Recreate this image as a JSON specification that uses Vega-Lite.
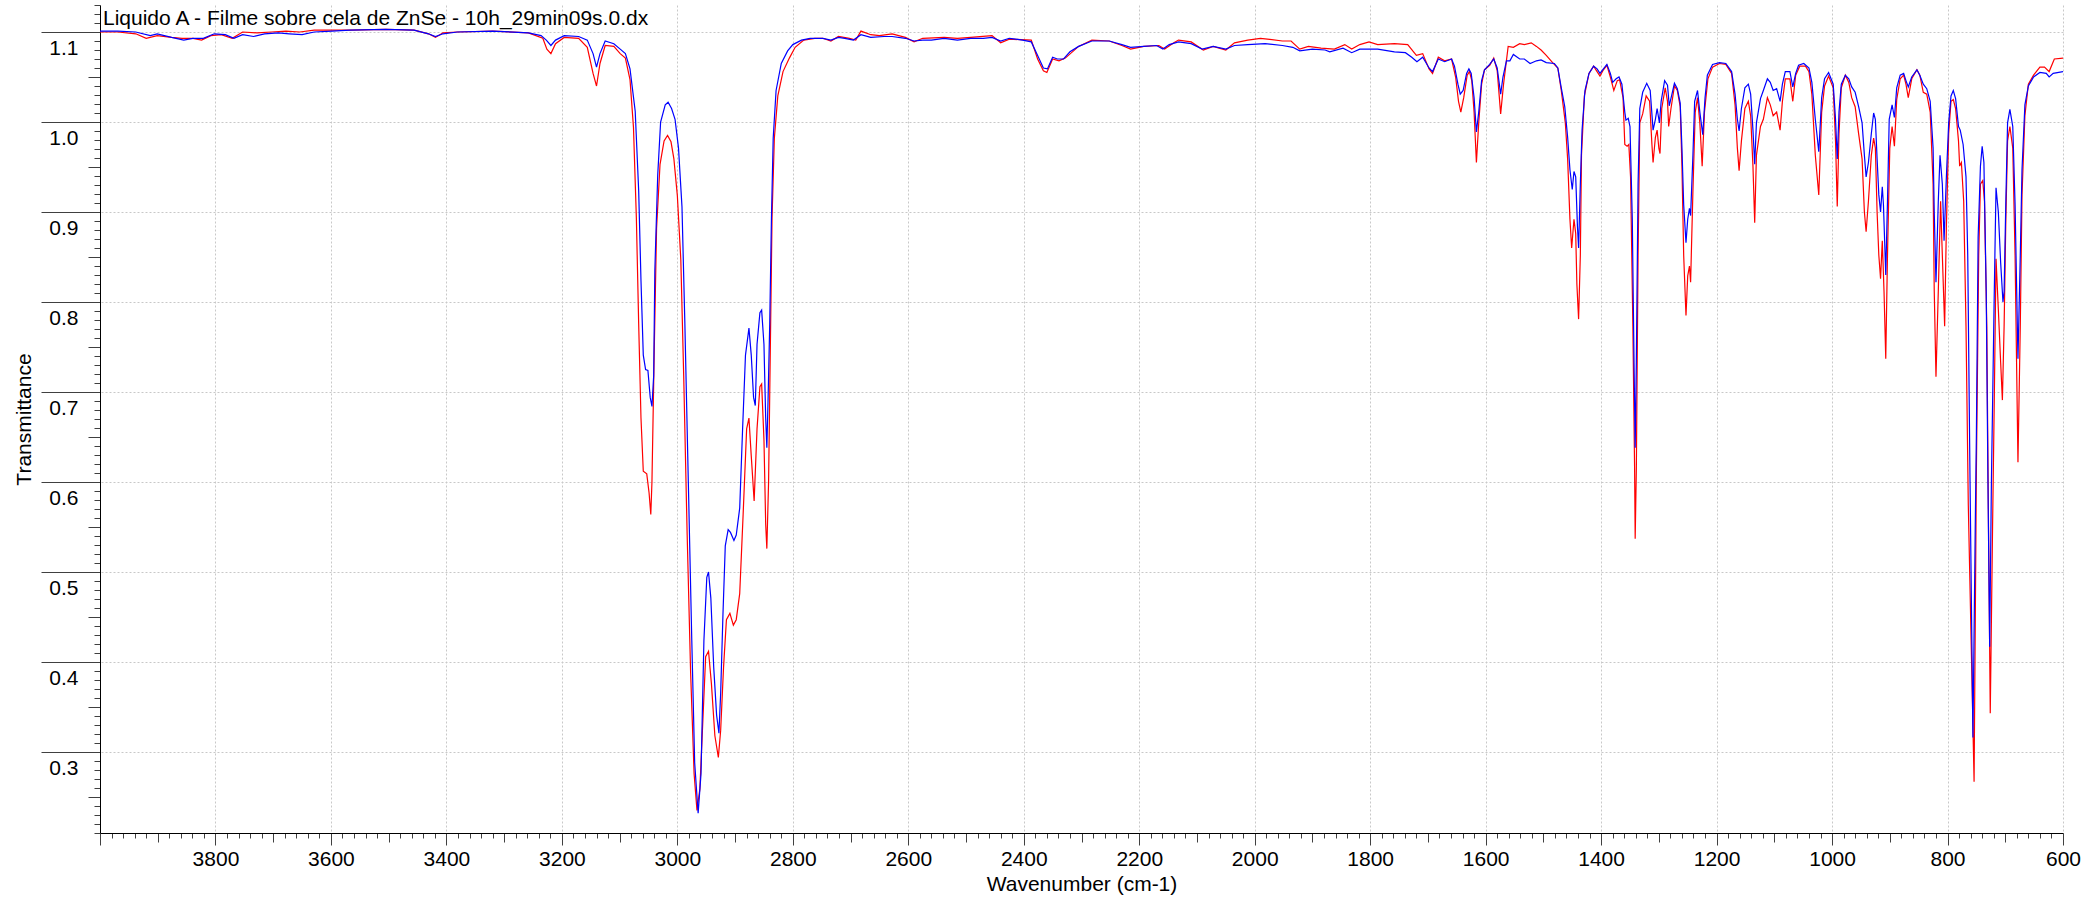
{
  "$schema": "https://vega.github.io/schema/vega-lite/v6.json",
  "width": 1963,
  "height": 828,
  "autosize": {"type": "none"},
  "padding": {"left": 100, "top": 5, "right": 28, "bottom": 66},
  "background": "white",
  "title": {"text": "Liquido A - Filme sobre cela de ZnSe - 10h_29min09s.0.dx", "anchor": "start", "frame": "group", "offset": -20, "baseline": "alphabetic", "dx": 3, "dy": 21, "font": "Liberation Sans", "fontSize": 21, "fontWeight": "normal", "color": "#000000"},
  "config": {
    "view": {"stroke": null},
    "font": "Liberation Sans",
    "axis": {"labelFont": "Liberation Sans", "labelFontSize": 21, "labelColor": "#000000", "titleFont": "Liberation Sans", "titleFontSize": 21, "titleFontWeight": "normal", "titleColor": "#000000", "domainColor": "#000000", "domainWidth": 1, "tickColor": "#404040", "tickWidth": 1, "gridColor": "#c8c8c8", "gridDash": [2, 2], "gridWidth": 1}
  },
  "datasets": {
    "blue": [
      {"w":4000,"t":1.101},{"w":3969,"t":1.101},{"w":3938,"t":1.100},{"w":3913,"t":1.096},{"w":3901,"t":1.098},{"w":3876,"t":1.094},{"w":3855,"t":1.091},{"w":3839,"t":1.093},{"w":3821,"t":1.093},{"w":3802,"t":1.098},{"w":3783,"t":1.097},{"w":3768,"t":1.093},{"w":3753,"t":1.097},{"w":3734,"t":1.095},{"w":3715,"t":1.098},{"w":3691,"t":1.099},{"w":3672,"t":1.098},{"w":3650,"t":1.097},{"w":3629,"t":1.100},{"w":3598,"t":1.101},{"w":3567,"t":1.102},{"w":3505,"t":1.103},{"w":3456,"t":1.102},{"w":3431,"t":1.098},{"w":3419,"t":1.095},{"w":3406,"t":1.098},{"w":3381,"t":1.100},{"w":3320,"t":1.101},{"w":3258,"t":1.099},{"w":3236,"t":1.096},{"w":3227,"t":1.091},{"w":3219,"t":1.085},{"w":3211,"t":1.091},{"w":3196,"t":1.096},{"w":3171,"t":1.095},{"w":3156,"t":1.091},{"w":3146,"t":1.076},{"w":3140,"t":1.061},{"w":3134,"t":1.076},{"w":3125,"t":1.090},{"w":3110,"t":1.087},{"w":3099,"t":1.081},{"w":3090,"t":1.076},{"w":3082,"t":1.059},{"w":3073,"t":1.012},{"w":3067,"t":0.924},{"w":3063,"t":0.824},{"w":3059,"t":0.741},{"w":3055,"t":0.725},{"w":3051,"t":0.724},{"w":3047,"t":0.694},{"w":3044,"t":0.684},{"w":3041,"t":0.718},{"w":3039,"t":0.835},{"w":3034,"t":0.941},{"w":3029,"t":1.000},{"w":3021,"t":1.019},{"w":3016,"t":1.022},{"w":3010,"t":1.015},{"w":3004,"t":1.003},{"w":2998,"t":0.971},{"w":2992,"t":0.906},{"w":2987,"t":0.776},{"w":2981,"t":0.600},{"w":2975,"t":0.424},{"w":2970,"t":0.288},{"w":2964,"t":0.232},{"w":2959,"t":0.276},{"w":2954,"t":0.424},{"w":2949,"t":0.494},{"w":2946,"t":0.500},{"w":2942,"t":0.471},{"w":2937,"t":0.394},{"w":2932,"t":0.341},{"w":2928,"t":0.321},{"w":2925,"t":0.365},{"w":2921,"t":0.453},{"w":2917,"t":0.529},{"w":2912,"t":0.547},{"w":2908,"t":0.544},{"w":2902,"t":0.535},{"w":2898,"t":0.541},{"w":2892,"t":0.571},{"w":2887,"t":0.659},{"w":2882,"t":0.741},{"w":2876,"t":0.771},{"w":2872,"t":0.741},{"w":2868,"t":0.694},{"w":2865,"t":0.685},{"w":2862,"t":0.753},{"w":2857,"t":0.788},{"w":2854,"t":0.791},{"w":2850,"t":0.753},{"w":2847,"t":0.671},{"w":2845,"t":0.638},{"w":2843,"t":0.688},{"w":2840,"t":0.776},{"w":2837,"t":0.894},{"w":2834,"t":0.982},{"w":2829,"t":1.035},{"w":2820,"t":1.065},{"w":2809,"t":1.079},{"w":2800,"t":1.086},{"w":2785,"t":1.091},{"w":2770,"t":1.093},{"w":2748,"t":1.093},{"w":2734,"t":1.091},{"w":2721,"t":1.094},{"w":2710,"t":1.093},{"w":2695,"t":1.091},{"w":2682,"t":1.097},{"w":2665,"t":1.094},{"w":2642,"t":1.095},{"w":2628,"t":1.095},{"w":2605,"t":1.093},{"w":2590,"t":1.090},{"w":2575,"t":1.091},{"w":2560,"t":1.091},{"w":2538,"t":1.093},{"w":2515,"t":1.091},{"w":2492,"t":1.093},{"w":2470,"t":1.093},{"w":2455,"t":1.094},{"w":2440,"t":1.090},{"w":2425,"t":1.093},{"w":2402,"t":1.091},{"w":2387,"t":1.089},{"w":2376,"t":1.074},{"w":2366,"t":1.060},{"w":2359,"t":1.059},{"w":2350,"t":1.072},{"w":2342,"t":1.070},{"w":2331,"t":1.070},{"w":2320,"t":1.078},{"w":2305,"t":1.084},{"w":2282,"t":1.090},{"w":2252,"t":1.090},{"w":2230,"t":1.086},{"w":2215,"t":1.083},{"w":2192,"t":1.084},{"w":2170,"t":1.085},{"w":2159,"t":1.081},{"w":2148,"t":1.086},{"w":2132,"t":1.089},{"w":2110,"t":1.087},{"w":2091,"t":1.081},{"w":2072,"t":1.084},{"w":2050,"t":1.081},{"w":2035,"t":1.085},{"w":2012,"t":1.086},{"w":1982,"t":1.087},{"w":1952,"t":1.085},{"w":1934,"t":1.083},{"w":1922,"t":1.079},{"w":1900,"t":1.081},{"w":1878,"t":1.080},{"w":1870,"t":1.078},{"w":1847,"t":1.082},{"w":1832,"t":1.077},{"w":1818,"t":1.081},{"w":1787,"t":1.081},{"w":1758,"t":1.078},{"w":1739,"t":1.077},{"w":1728,"t":1.072},{"w":1719,"t":1.067},{"w":1709,"t":1.072},{"w":1698,"t":1.060},{"w":1692,"t":1.056},{"w":1682,"t":1.070},{"w":1671,"t":1.067},{"w":1659,"t":1.070},{"w":1654,"t":1.062},{"w":1648,"t":1.042},{"w":1644,"t":1.031},{"w":1639,"t":1.035},{"w":1633,"t":1.054},{"w":1629,"t":1.059},{"w":1625,"t":1.054},{"w":1620,"t":1.027},{"w":1616,"t":0.989},{"w":1612,"t":1.011},{"w":1607,"t":1.046},{"w":1602,"t":1.058},{"w":1593,"t":1.064},{"w":1586,"t":1.070},{"w":1580,"t":1.060},{"w":1574,"t":1.031},{"w":1570,"t":1.050},{"w":1564,"t":1.068},{"w":1558,"t":1.068},{"w":1552,"t":1.075},{"w":1541,"t":1.070},{"w":1533,"t":1.070},{"w":1523,"t":1.065},{"w":1512,"t":1.068},{"w":1504,"t":1.069},{"w":1495,"t":1.066},{"w":1481,"t":1.065},{"w":1475,"t":1.060},{"w":1469,"t":1.038},{"w":1463,"t":1.017},{"w":1458,"t":0.983},{"w":1454,"t":0.947},{"w":1450,"t":0.925},{"w":1447,"t":0.945},{"w":1444,"t":0.939},{"w":1441,"t":0.884},{"w":1439,"t":0.860},{"w":1436,"t":0.931},{"w":1433,"t":0.991},{"w":1428,"t":1.035},{"w":1421,"t":1.054},{"w":1413,"t":1.062},{"w":1407,"t":1.059},{"w":1402,"t":1.054},{"w":1396,"t":1.059},{"w":1390,"t":1.064},{"w":1384,"t":1.054},{"w":1380,"t":1.044},{"w":1374,"t":1.048},{"w":1369,"t":1.050},{"w":1364,"t":1.042},{"w":1359,"t":1.011},{"w":1357,"t":1.002},{"w":1353,"t":1.004},{"w":1350,"t":0.995},{"w":1346,"t":0.892},{"w":1343,"t":0.733},{"w":1341,"t":0.638},{"w":1339,"t":0.733},{"w":1336,"t":0.931},{"w":1333,"t":1.015},{"w":1328,"t":1.033},{"w":1321,"t":1.043},{"w":1315,"t":1.035},{"w":1310,"t":0.991},{"w":1306,"t":1.003},{"w":1303,"t":1.015},{"w":1299,"t":0.999},{"w":1296,"t":1.023},{"w":1290,"t":1.046},{"w":1285,"t":1.041},{"w":1282,"t":1.018},{"w":1278,"t":1.029},{"w":1273,"t":1.043},{"w":1268,"t":1.037},{"w":1263,"t":1.021},{"w":1260,"t":0.971},{"w":1257,"t":0.908},{"w":1253,"t":0.866},{"w":1250,"t":0.892},{"w":1247,"t":0.904},{"w":1245,"t":0.896},{"w":1241,"t":0.963},{"w":1238,"t":1.023},{"w":1233,"t":1.035},{"w":1229,"t":1.011},{"w":1224,"t":0.986},{"w":1220,"t":1.027},{"w":1216,"t":1.052},{"w":1207,"t":1.064},{"w":1195,"t":1.066},{"w":1184,"t":1.065},{"w":1174,"t":1.056},{"w":1168,"t":1.031},{"w":1164,"t":1.003},{"w":1161,"t":0.990},{"w":1157,"t":1.015},{"w":1151,"t":1.038},{"w":1145,"t":1.042},{"w":1141,"t":1.031},{"w":1137,"t":0.991},{"w":1134,"t":0.953},{"w":1131,"t":0.999},{"w":1124,"t":1.026},{"w":1119,"t":1.035},{"w":1112,"t":1.048},{"w":1107,"t":1.044},{"w":1102,"t":1.035},{"w":1096,"t":1.037},{"w":1090,"t":1.023},{"w":1086,"t":1.042},{"w":1081,"t":1.056},{"w":1073,"t":1.056},{"w":1068,"t":1.039},{"w":1063,"t":1.054},{"w":1058,"t":1.063},{"w":1049,"t":1.065},{"w":1040,"t":1.060},{"w":1035,"t":1.044},{"w":1029,"t":1.003},{"w":1023,"t":0.967},{"w":1018,"t":1.027},{"w":1013,"t":1.048},{"w":1006,"t":1.055},{"w":998,"t":1.042},{"w":994,"t":1.003},{"w":991,"t":0.959},{"w":988,"t":1.011},{"w":984,"t":1.042},{"w":977,"t":1.052},{"w":971,"t":1.048},{"w":966,"t":1.039},{"w":960,"t":1.033},{"w":954,"t":1.017},{"w":948,"t":0.999},{"w":944,"t":0.963},{"w":941,"t":0.939},{"w":937,"t":0.955},{"w":932,"t":0.987},{"w":928,"t":1.010},{"w":925,"t":1.003},{"w":922,"t":0.959},{"w":919,"t":0.919},{"w":916,"t":0.900},{"w":913,"t":0.928},{"w":911,"t":0.908},{"w":907,"t":0.830},{"w":904,"t":0.912},{"w":901,"t":1.003},{"w":896,"t":1.019},{"w":892,"t":1.005},{"w":888,"t":1.038},{"w":882,"t":1.052},{"w":876,"t":1.054},{"w":872,"t":1.046},{"w":868,"t":1.039},{"w":862,"t":1.050},{"w":853,"t":1.058},{"w":848,"t":1.052},{"w":842,"t":1.042},{"w":836,"t":1.037},{"w":830,"t":1.023},{"w":825,"t":0.971},{"w":823,"t":0.900},{"w":820,"t":0.822},{"w":816,"t":0.912},{"w":813,"t":0.963},{"w":809,"t":0.931},{"w":806,"t":0.868},{"w":802,"t":0.939},{"w":798,"t":0.999},{"w":794,"t":1.029},{"w":790,"t":1.035},{"w":786,"t":1.026},{"w":781,"t":0.995},{"w":778,"t":0.991},{"w":773,"t":0.975},{"w":768,"t":0.939},{"w":765,"t":0.852},{"w":761,"t":0.600},{"w":756,"t":0.316},{"w":752,"t":0.550},{"w":750,"t":0.654},{"w":747,"t":0.872},{"w":743,"t":0.951},{"w":740,"t":0.973},{"w":737,"t":0.955},{"w":733,"t":0.812},{"w":730,"t":0.600},{"w":727,"t":0.417},{"w":724,"t":0.600},{"w":719,"t":0.812},{"w":716,"t":0.927},{"w":712,"t":0.900},{"w":708,"t":0.844},{"w":704,"t":0.800},{"w":702,"t":0.812},{"w":699,"t":0.912},{"w":696,"t":0.999},{"w":692,"t":1.014},{"w":687,"t":0.995},{"w":683,"t":0.908},{"w":678,"t":0.737},{"w":674,"t":0.852},{"w":671,"t":0.947},{"w":666,"t":1.019},{"w":660,"t":1.040},{"w":651,"t":1.050},{"w":640,"t":1.055},{"w":629,"t":1.054},{"w":624,"t":1.050},{"w":617,"t":1.054},{"w":600,"t":1.056}
    ],
    "red": [
      {"w":4000,"t":1.100},{"w":3969,"t":1.100},{"w":3938,"t":1.098},{"w":3920,"t":1.093},{"w":3901,"t":1.096},{"w":3876,"t":1.094},{"w":3858,"t":1.093},{"w":3839,"t":1.093},{"w":3824,"t":1.091},{"w":3808,"t":1.096},{"w":3790,"t":1.097},{"w":3771,"t":1.093},{"w":3753,"t":1.100},{"w":3728,"t":1.099},{"w":3703,"t":1.100},{"w":3678,"t":1.101},{"w":3654,"t":1.100},{"w":3629,"t":1.102},{"w":3598,"t":1.102},{"w":3567,"t":1.102},{"w":3505,"t":1.103},{"w":3456,"t":1.102},{"w":3431,"t":1.098},{"w":3419,"t":1.094},{"w":3406,"t":1.099},{"w":3381,"t":1.100},{"w":3320,"t":1.101},{"w":3258,"t":1.099},{"w":3233,"t":1.093},{"w":3226,"t":1.081},{"w":3219,"t":1.076},{"w":3211,"t":1.087},{"w":3196,"t":1.094},{"w":3171,"t":1.093},{"w":3156,"t":1.083},{"w":3146,"t":1.054},{"w":3140,"t":1.040},{"w":3134,"t":1.065},{"w":3125,"t":1.085},{"w":3110,"t":1.084},{"w":3099,"t":1.076},{"w":3090,"t":1.071},{"w":3082,"t":1.047},{"w":3076,"t":0.994},{"w":3071,"t":0.894},{"w":3067,"t":0.776},{"w":3063,"t":0.671},{"w":3059,"t":0.612},{"w":3053,"t":0.609},{"w":3049,"t":0.588},{"w":3046,"t":0.564},{"w":3044,"t":0.600},{"w":3040,"t":0.747},{"w":3036,"t":0.882},{"w":3030,"t":0.953},{"w":3023,"t":0.979},{"w":3017,"t":0.985},{"w":3011,"t":0.978},{"w":3006,"t":0.959},{"w":3000,"t":0.918},{"w":2994,"t":0.847},{"w":2989,"t":0.718},{"w":2983,"t":0.541},{"w":2977,"t":0.388},{"w":2971,"t":0.276},{"w":2966,"t":0.235},{"w":2961,"t":0.259},{"w":2955,"t":0.347},{"w":2951,"t":0.406},{"w":2946,"t":0.412},{"w":2941,"t":0.376},{"w":2935,"t":0.318},{"w":2929,"t":0.294},{"w":2925,"t":0.324},{"w":2920,"t":0.394},{"w":2915,"t":0.447},{"w":2909,"t":0.454},{"w":2903,"t":0.441},{"w":2898,"t":0.447},{"w":2892,"t":0.476},{"w":2886,"t":0.565},{"w":2880,"t":0.659},{"w":2876,"t":0.671},{"w":2872,"t":0.629},{"w":2867,"t":0.579},{"w":2862,"t":0.659},{"w":2857,"t":0.706},{"w":2854,"t":0.709},{"w":2850,"t":0.647},{"w":2847,"t":0.553},{"w":2845,"t":0.526},{"w":2842,"t":0.600},{"w":2839,"t":0.747},{"w":2836,"t":0.894},{"w":2832,"t":0.982},{"w":2826,"t":1.029},{"w":2817,"t":1.056},{"w":2806,"t":1.071},{"w":2796,"t":1.083},{"w":2781,"t":1.091},{"w":2762,"t":1.093},{"w":2748,"t":1.093},{"w":2734,"t":1.090},{"w":2721,"t":1.095},{"w":2702,"t":1.093},{"w":2691,"t":1.091},{"w":2682,"t":1.101},{"w":2665,"t":1.097},{"w":2650,"t":1.096},{"w":2628,"t":1.098},{"w":2605,"t":1.094},{"w":2590,"t":1.089},{"w":2575,"t":1.093},{"w":2538,"t":1.094},{"w":2515,"t":1.093},{"w":2492,"t":1.094},{"w":2455,"t":1.096},{"w":2440,"t":1.088},{"w":2425,"t":1.092},{"w":2387,"t":1.091},{"w":2376,"t":1.070},{"w":2366,"t":1.057},{"w":2360,"t":1.055},{"w":2350,"t":1.070},{"w":2339,"t":1.068},{"w":2328,"t":1.071},{"w":2305,"t":1.084},{"w":2282,"t":1.091},{"w":2252,"t":1.090},{"w":2230,"t":1.085},{"w":2215,"t":1.081},{"w":2192,"t":1.084},{"w":2166,"t":1.085},{"w":2156,"t":1.081},{"w":2140,"t":1.088},{"w":2132,"t":1.091},{"w":2110,"t":1.089},{"w":2089,"t":1.080},{"w":2072,"t":1.084},{"w":2050,"t":1.080},{"w":2035,"t":1.088},{"w":2012,"t":1.091},{"w":1990,"t":1.093},{"w":1952,"t":1.090},{"w":1937,"t":1.090},{"w":1922,"t":1.081},{"w":1907,"t":1.084},{"w":1885,"t":1.082},{"w":1862,"t":1.081},{"w":1844,"t":1.086},{"w":1832,"t":1.081},{"w":1818,"t":1.086},{"w":1802,"t":1.089},{"w":1787,"t":1.086},{"w":1758,"t":1.087},{"w":1735,"t":1.086},{"w":1720,"t":1.074},{"w":1709,"t":1.076},{"w":1698,"t":1.059},{"w":1692,"t":1.054},{"w":1682,"t":1.072},{"w":1671,"t":1.068},{"w":1659,"t":1.070},{"w":1652,"t":1.050},{"w":1647,"t":1.023},{"w":1643,"t":1.011},{"w":1638,"t":1.027},{"w":1632,"t":1.052},{"w":1628,"t":1.056},{"w":1624,"t":1.046},{"w":1620,"t":1.011},{"w":1616,"t":0.955},{"w":1612,"t":0.999},{"w":1607,"t":1.042},{"w":1602,"t":1.058},{"w":1593,"t":1.063},{"w":1586,"t":1.071},{"w":1580,"t":1.057},{"w":1574,"t":1.009},{"w":1569,"t":1.042},{"w":1561,"t":1.084},{"w":1552,"t":1.083},{"w":1541,"t":1.087},{"w":1533,"t":1.086},{"w":1521,"t":1.088},{"w":1512,"t":1.084},{"w":1504,"t":1.080},{"w":1495,"t":1.074},{"w":1484,"t":1.066},{"w":1475,"t":1.060},{"w":1469,"t":1.035},{"w":1462,"t":0.999},{"w":1458,"t":0.959},{"w":1454,"t":0.892},{"w":1451,"t":0.860},{"w":1447,"t":0.892},{"w":1444,"t":0.876},{"w":1442,"t":0.820},{"w":1439,"t":0.781},{"w":1436,"t":0.852},{"w":1434,"t":0.963},{"w":1429,"t":1.029},{"w":1421,"t":1.054},{"w":1413,"t":1.062},{"w":1407,"t":1.056},{"w":1402,"t":1.051},{"w":1396,"t":1.058},{"w":1390,"t":1.063},{"w":1384,"t":1.050},{"w":1378,"t":1.035},{"w":1372,"t":1.046},{"w":1368,"t":1.047},{"w":1362,"t":1.027},{"w":1359,"t":0.975},{"w":1355,"t":0.973},{"w":1352,"t":0.975},{"w":1349,"t":0.939},{"w":1345,"t":0.773},{"w":1342,"t":0.614},{"w":1341,"t":0.537},{"w":1339,"t":0.614},{"w":1336,"t":0.852},{"w":1333,"t":0.999},{"w":1328,"t":1.009},{"w":1322,"t":1.029},{"w":1316,"t":1.023},{"w":1312,"t":0.975},{"w":1310,"t":0.955},{"w":1306,"t":0.983},{"w":1303,"t":0.991},{"w":1300,"t":0.971},{"w":1298,"t":0.965},{"w":1295,"t":1.015},{"w":1289,"t":1.038},{"w":1285,"t":1.023},{"w":1283,"t":0.995},{"w":1279,"t":1.015},{"w":1273,"t":1.040},{"w":1268,"t":1.035},{"w":1263,"t":1.017},{"w":1260,"t":0.951},{"w":1257,"t":0.852},{"w":1253,"t":0.785},{"w":1250,"t":0.829},{"w":1247,"t":0.840},{"w":1245,"t":0.822},{"w":1241,"t":0.923},{"w":1237,"t":1.011},{"w":1233,"t":1.027},{"w":1229,"t":0.999},{"w":1225,"t":0.951},{"w":1221,"t":1.011},{"w":1215,"t":1.048},{"w":1207,"t":1.061},{"w":1195,"t":1.065},{"w":1184,"t":1.064},{"w":1174,"t":1.054},{"w":1168,"t":1.019},{"w":1164,"t":0.971},{"w":1161,"t":0.946},{"w":1157,"t":0.979},{"w":1151,"t":1.015},{"w":1145,"t":1.023},{"w":1141,"t":1.007},{"w":1137,"t":0.951},{"w":1134,"t":0.888},{"w":1131,"t":0.963},{"w":1124,"t":0.995},{"w":1119,"t":1.003},{"w":1112,"t":1.027},{"w":1107,"t":1.019},{"w":1102,"t":1.007},{"w":1096,"t":1.011},{"w":1090,"t":0.991},{"w":1086,"t":1.023},{"w":1081,"t":1.048},{"w":1073,"t":1.048},{"w":1068,"t":1.023},{"w":1063,"t":1.052},{"w":1056,"t":1.062},{"w":1046,"t":1.062},{"w":1040,"t":1.056},{"w":1035,"t":1.031},{"w":1029,"t":0.963},{"w":1023,"t":0.919},{"w":1018,"t":1.011},{"w":1013,"t":1.040},{"w":1006,"t":1.051},{"w":998,"t":1.038},{"w":994,"t":0.979},{"w":991,"t":0.906},{"w":988,"t":0.987},{"w":984,"t":1.038},{"w":977,"t":1.052},{"w":971,"t":1.044},{"w":966,"t":1.027},{"w":960,"t":1.017},{"w":954,"t":0.987},{"w":948,"t":0.959},{"w":944,"t":0.900},{"w":941,"t":0.878},{"w":937,"t":0.912},{"w":932,"t":0.963},{"w":928,"t":0.982},{"w":925,"t":0.971},{"w":922,"t":0.900},{"w":919,"t":0.852},{"w":916,"t":0.826},{"w":913,"t":0.868},{"w":910,"t":0.812},{"w":907,"t":0.737},{"w":904,"t":0.852},{"w":900,"t":0.971},{"w":896,"t":0.995},{"w":892,"t":0.973},{"w":888,"t":1.025},{"w":882,"t":1.048},{"w":876,"t":1.052},{"w":872,"t":1.042},{"w":868,"t":1.027},{"w":862,"t":1.048},{"w":853,"t":1.058},{"w":848,"t":1.052},{"w":842,"t":1.033},{"w":836,"t":1.031},{"w":830,"t":1.011},{"w":825,"t":0.931},{"w":823,"t":0.812},{"w":820,"t":0.717},{"w":816,"t":0.812},{"w":812,"t":0.912},{"w":809,"t":0.852},{"w":805,"t":0.773},{"w":802,"t":0.884},{"w":798,"t":0.987},{"w":794,"t":1.023},{"w":790,"t":1.025},{"w":786,"t":1.015},{"w":781,"t":0.979},{"w":779,"t":0.951},{"w":776,"t":0.955},{"w":772,"t":0.912},{"w":768,"t":0.773},{"w":764,"t":0.574},{"w":759,"t":0.420},{"w":754,"t":0.267},{"w":750,"t":0.614},{"w":746,"t":0.852},{"w":743,"t":0.931},{"w":739,"t":0.935},{"w":736,"t":0.912},{"w":732,"t":0.773},{"w":729,"t":0.550},{"w":726,"t":0.343},{"w":722,"t":0.550},{"w":719,"t":0.693},{"w":716,"t":0.848},{"w":712,"t":0.792},{"w":708,"t":0.733},{"w":705,"t":0.691},{"w":702,"t":0.773},{"w":699,"t":0.892},{"w":696,"t":0.979},{"w":692,"t":0.995},{"w":687,"t":0.971},{"w":683,"t":0.852},{"w":678,"t":0.622},{"w":674,"t":0.773},{"w":671,"t":0.919},{"w":666,"t":1.007},{"w":660,"t":1.042},{"w":651,"t":1.052},{"w":640,"t":1.061},{"w":632,"t":1.061},{"w":624,"t":1.056},{"w":615,"t":1.070},{"w":600,"t":1.071}
    ]
  },
  "encoding": {
    "x": {"field": "w", "type": "quantitative",
      "scale": {"domain": [600, 4000], "reverse": true, "nice": false, "zero": false},
      "axis": {"title": "Wavenumber (cm-1)", "tickCount": 170, "format": "d",
        "labelExpr": "datum.value % 200 === 0 && datum.value < 4000 ? datum.label : ''",
        "labelOverlap": false, "labelFlush": false, "labelBound": false,
        "tickSize": {"condition": [{"test": "datum.value % 200 === 0", "value": 12}, {"test": "datum.value % 100 === 0", "value": 9}], "value": 5},
        "gridOpacity": {"condition": {"test": "datum.value % 200 === 0 && datum.value < 4000", "value": 1}, "value": 0},
        "labelPadding": 3, "titlePadding": 4}},
    "y": {"field": "t", "type": "quantitative",
      "scale": {"domain": [0.21, 1.13], "nice": false, "zero": false},
      "axis": {"title": "Transmittance", "tickCount": 92, "format": ".1f",
        "labelExpr": "abs(datum.value*10 - round(datum.value*10)) < 1e-6 ? datum.label : ''",
        "labelOverlap": false, "labelFlush": false, "labelBound": false,
        "tickSize": {"condition": [{"test": "abs(datum.value*10 - round(datum.value*10)) < 1e-6", "value": 59}, {"test": "abs(datum.value*20 - round(datum.value*20)) < 1e-6", "value": 12}], "value": 6},
        "gridOpacity": {"condition": {"test": "abs(datum.value*10 - round(datum.value*10)) < 1e-6", "value": 1}, "value": 0},
        "labelAlign": "right", "labelBaseline": "top", "labelPadding": -37, "labelOffset": 5, "titlePadding": 6}}
  },
  "layer": [
    {"data": {"name": "red"}, "mark": {"type": "line", "color": "#ff0000", "strokeWidth": 1.2, "clip": true}},
    {"data": {"name": "blue"}, "mark": {"type": "line", "color": "#0000ff", "strokeWidth": 1.2, "clip": true}}
  ]
}
